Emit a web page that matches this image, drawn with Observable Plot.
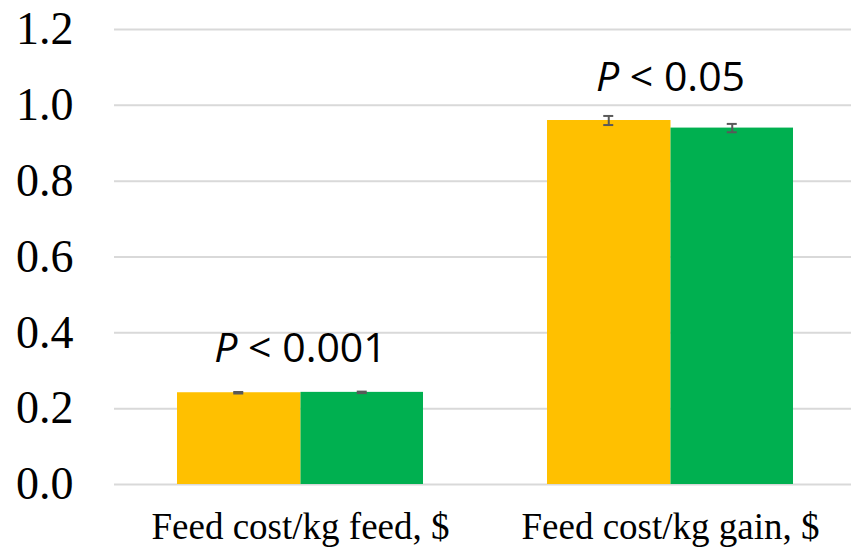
<!DOCTYPE html>
<html><head><meta charset="utf-8">
<script src="https://cdn.jsdelivr.net/npm/d3@7"></script>
<script src="https://cdn.jsdelivr.net/npm/@observablehq/plot@0.6"></script>
<style>body{margin:0;background:#fff}</style>
</head><body><div id="chart"></div>
<script>
const categories = ["Feed cost/kg feed, $", "Feed cost/kg gain, $"];
const yellowValues = [0.242, 0.960];
const greenValues = [0.243, 0.940];
const yellowErrors = [0.002, 0.012];
const greenErrors = [0.002, 0.011];
const pLabels = ["P < 0.001", "P < 0.05"];
const yTicks = [0, 0.2, 0.4, 0.6, 0.8, 1.0, 1.2];

const yellowRows = categories.map((c, i) => ({category: c, value: yellowValues[i], err: yellowErrors[i]}));
const greenRows = categories.map((c, i) => ({category: c, value: greenValues[i], err: greenErrors[i]}));
const labelRows = categories.map((c, i) => ({category: c, label: pLabels[i], top: Math.max(yellowValues[i], greenValues[i])}));

const bw = 247, half = bw / 2, cap = 5.5;

const chart = Plot.plot({
  width: 851, height: 549,
  marginLeft: 114, marginRight: 0, marginTop: 29, marginBottom: 65,
  style: {background: "#fff", color: "#000"},
  x: {domain: categories, range: [176, 794], paddingInner: 0.334, paddingOuter: 0},
  y: {domain: [0, 1.2]},
  marks: [
    Plot.ruleY(yTicks, {stroke: "#d9d9d9", strokeWidth: 2}),
    Plot.barY(yellowRows, {x: "category", y: "value", fill: "#FFC000", insetRight: half - 1}),
    Plot.barY(greenRows, {x: "category", y: "value", fill: "#00B050", insetLeft: half}),
    Plot.ruleX(yellowRows, {x: "category", y1: d => d.value - d.err, y2: d => d.value + d.err, dx: -half / 2, stroke: "#595959", strokeWidth: 2}),
    Plot.ruleX(greenRows, {x: "category", y1: d => d.value - d.err, y2: d => d.value + d.err, dx: half / 2, stroke: "#595959", strokeWidth: 2}),
    Plot.tickY(yellowRows, {x: "category", y: d => d.value + d.err, insetLeft: half / 2 - cap, insetRight: bw - half / 2 - cap, stroke: "#595959", strokeWidth: 2}),
    Plot.tickY(yellowRows, {x: "category", y: d => d.value - d.err, insetLeft: half / 2 - cap, insetRight: bw - half / 2 - cap, stroke: "#595959", strokeWidth: 2}),
    Plot.tickY(greenRows, {x: "category", y: d => d.value + d.err, insetLeft: half + half / 2 - cap, insetRight: half / 2 - cap, stroke: "#595959", strokeWidth: 2}),
    Plot.tickY(greenRows, {x: "category", y: d => d.value - d.err, insetLeft: half + half / 2 - cap, insetRight: half / 2 - cap, stroke: "#595959", strokeWidth: 2}),
    Plot.text(labelRows, {x: "category", y: "top", text: "label", dy: -43, fontSize: 41, fontFamily: "Open Sans", fill: "#000", className: "plabel"}),
    Plot.axisY(yTicks, {tickSize: 0, tickPadding: 41, fontSize: 46, fontFamily: "Liberation Serif", tickFormat: d => d.toFixed(1), label: null}),
    Plot.axisX({tickSize: 0, tickPadding: 28, fontSize: 37, fontFamily: "Liberation Serif", label: null})
  ]
});
document.getElementById("chart").appendChild(chart);
d3.select(chart).selectAll(".plabel text").each(function() {
  const t = this.textContent;
  if (t.startsWith("P")) {
    const sel = d3.select(this);
    sel.text(null);
    sel.append("tspan").attr("font-style", "italic").text("P");
    sel.append("tspan").text(t.slice(1));
  }
});
</script>
</body></html>
